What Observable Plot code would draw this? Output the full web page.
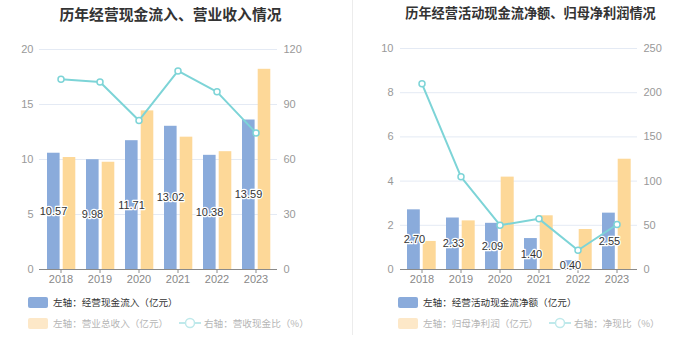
<!DOCTYPE html>
<html><head><meta charset="utf-8">
<script src="https://cdn.jsdelivr.net/npm/d3@7"></script>
<script src="https://cdn.jsdelivr.net/npm/@observablehq/plot@0.6"></script>
<style>
body{margin:0;background:#fff;font-family:"Liberation Sans","Noto Sans CJK SC",sans-serif;}
#root{position:relative;width:700px;height:360px;overflow:hidden;background:#fff;}
.abs{position:absolute;}
.title{position:absolute;top:3px;font-weight:bold;color:#333;white-space:nowrap;transform:translateX(-50%);font-family:"Noto Sans CJK SC",sans-serif;}
.leg{position:absolute;font-size:9.6px;white-space:nowrap;display:flex;align-items:center;height:14px;font-family:"Noto Sans CJK SC",sans-serif;}
.sw{width:20px;height:11px;border-radius:2px;margin-right:5px;}
.svgbox{position:absolute;top:0;}
.svgbox svg{position:absolute;top:0;left:0;}
</style></head>
<body><div id="root"></div>
<script>
const years = ["2018","2019","2020","2021","2022","2023"];
// left panel
const cashIn = [10.57, 9.98, 11.71, 13.02, 10.38, 13.59];
const revenue = [10.18, 9.75, 14.42, 12.03, 10.71, 18.20];
const cashRatio = [103.8, 102.3, 81.3, 108.3, 96.9, 74.5];
const leftTicksA = [0, 5, 10, 15, 20];
const rightTicksA = [0, 30, 60, 90, 120];
// right panel
const opCash = [2.70, 2.33, 2.09, 1.40, 0.40, 2.55];
const netProfit = [1.27, 2.20, 4.18, 2.43, 1.81, 4.99];
const netRatio = [210.0, 104.8, 50.1, 57.3, 21.8, 50.9];
const leftTicksB = [0, 2, 4, 6, 8, 10];
const rightTicksB = [0, 50, 100, 150, 200, 250];

const titles = ["历年经营现金流入、营业收入情况", "历年经营活动现金流净额、归母净利润情况"];
const legendA = ["左轴：经营现金流入（亿元）", "左轴：营业总收入（亿元）", "右轴：营收现金比（%）"];
const legendB = ["左轴：经营活动现金流净额（亿元）", "左轴：归母净利润（亿元）", "右轴：净现比（%）"];

const BLUE = "#8aabdb", YEL = "#fdd898", LINE = "#7dd4d7";
const FONT = "'Liberation Sans','Noto Sans CJK SC',sans-serif";
const root = document.getElementById("root");

function panel(o) {
  const data = years.map((y, i) => ({year: y, a: o.a[i], b: o.b[i], r: o.r[i]}));
  const box = document.createElement("div");
  box.className = "svgbox";
  box.style.left = o.left + "px";
  box.style.width = "350px"; box.style.height = "300px";
  const common = {
    width: 350, height: 290, marginTop: o.mt, marginBottom: 21,
    marginLeft: o.ml, marginRight: o.mr,
    style: {fontFamily: FONT, fontSize: "11px", background: "transparent", overflow: "visible"}
  };
  const p1 = Plot.plot({
    ...common,
    x: {type: "band", domain: years, padding: 0, axis: null},
    y: {domain: [0, o.lt[o.lt.length - 1]], axis: null},
    marks: [
      Plot.gridY(o.lt, {stroke: "#e4eaf4", strokeOpacity: 1}),
      Plot.axisY(o.lt, {tickSize: 0, tickPadding: o.lp, fill: "#999", stroke: null, label: null}),
      Plot.barY(data, {x: "year", y: "a", fill: BLUE, insetLeft: o.ib[0], insetRight: o.ib[1]}),
      Plot.barY(data, {x: "year", y: "b", fill: YEL, insetLeft: o.iy[0], insetRight: o.iy[1]}),
      Plot.ruleY([0], {stroke: "#8a8a8a"}),
      Plot.axisX({tickSize: 4, tickPadding: 2, stroke: "#8a8a8a", fill: "#888", label: null, fontSize: 11}),
      Plot.text(data, {x: "year", y: d => d.a / 2, text: d => d.a.toFixed(2), dx: o.ldx,
        fill: "#333", stroke: "white", strokeWidth: 2.5, fontSize: 11})
    ]
  });
  const p2 = Plot.plot({
    ...common,
    x: {type: "band", domain: years, padding: 0, axis: null},
    y: {domain: [0, o.rt[o.rt.length - 1]], axis: null},
    marks: [
      Plot.axisY(o.rt, {anchor: "right", tickSize: 0, tickPadding: 6, fill: "#999", stroke: null, label: null}),
      Plot.line(data, {x: "year", y: "r", stroke: LINE, strokeWidth: 2}),
      Plot.dot(data, {x: "year", y: "r", r: 3, stroke: LINE, strokeWidth: 1.5, fill: "white"})
    ]
  });
  box.appendChild(p1); box.appendChild(p2);
  root.appendChild(box);

  const t = document.createElement("div");
  t.className = "title"; t.textContent = o.title;
  t.style.left = o.tc + "px"; t.style.fontSize = o.tfs + "px";
  root.appendChild(t);

  // legend
  const mk = (x, y, html) => {
    const d = document.createElement("div");
    d.className = "leg"; d.style.left = x + "px"; d.style.top = y + "px";
    d.innerHTML = html; root.appendChild(d);
  };
  mk(o.lx, 295, `<div class="sw" style="background:${BLUE}"></div><span style="color:#333">${o.leg[0]}</span>`);
  mk(o.lx, 316, `<div class="sw" style="background:#fde8c8"></div><span style="color:#b5b5b5">${o.leg[1]}</span>`);
  mk(o.lx2, 316, `<svg width="22" height="12" style="margin-right:3px"><line x1="0" y1="6" x2="22" y2="6" stroke="#bfe9eb" stroke-width="2"/><circle cx="11" cy="6" r="4.5" fill="white" stroke="#bfe9eb" stroke-width="1.5"/></svg><span style="color:#b5b5b5">${o.leg[2]}</span>`);
}

panel({left: 0, a: cashIn, b: revenue, r: cashRatio, lt: leftTicksA, rt: rightTicksA,
  mt: 49, ml: 39, mr: 73, lp: 6, ib: [6, 20.4], iy: [21.7, 4.7], ldx: -7.5,
  title: titles[0], tc: 170.5, tfs: 14.8, leg: legendA, lx: 28, lx2: 179});
panel({left: 350, a: opCash, b: netProfit, r: netRatio, lt: leftTicksB, rt: rightTicksB,
  mt: 48, ml: 50, mr: 63, lp: 7, ib: [5, 21.2], iy: [20.7, 5.3], ldx: -7.5,
  title: titles[1], tc: 530.5, tfs: 13.2, leg: legendB, lx: 398, lx2: 549});

const div = document.createElement("div");
div.className = "abs";
div.style.cssText = "left:352px;top:0;width:1px;height:335px;background:#ececec;";
root.appendChild(div);
</script></body></html>
